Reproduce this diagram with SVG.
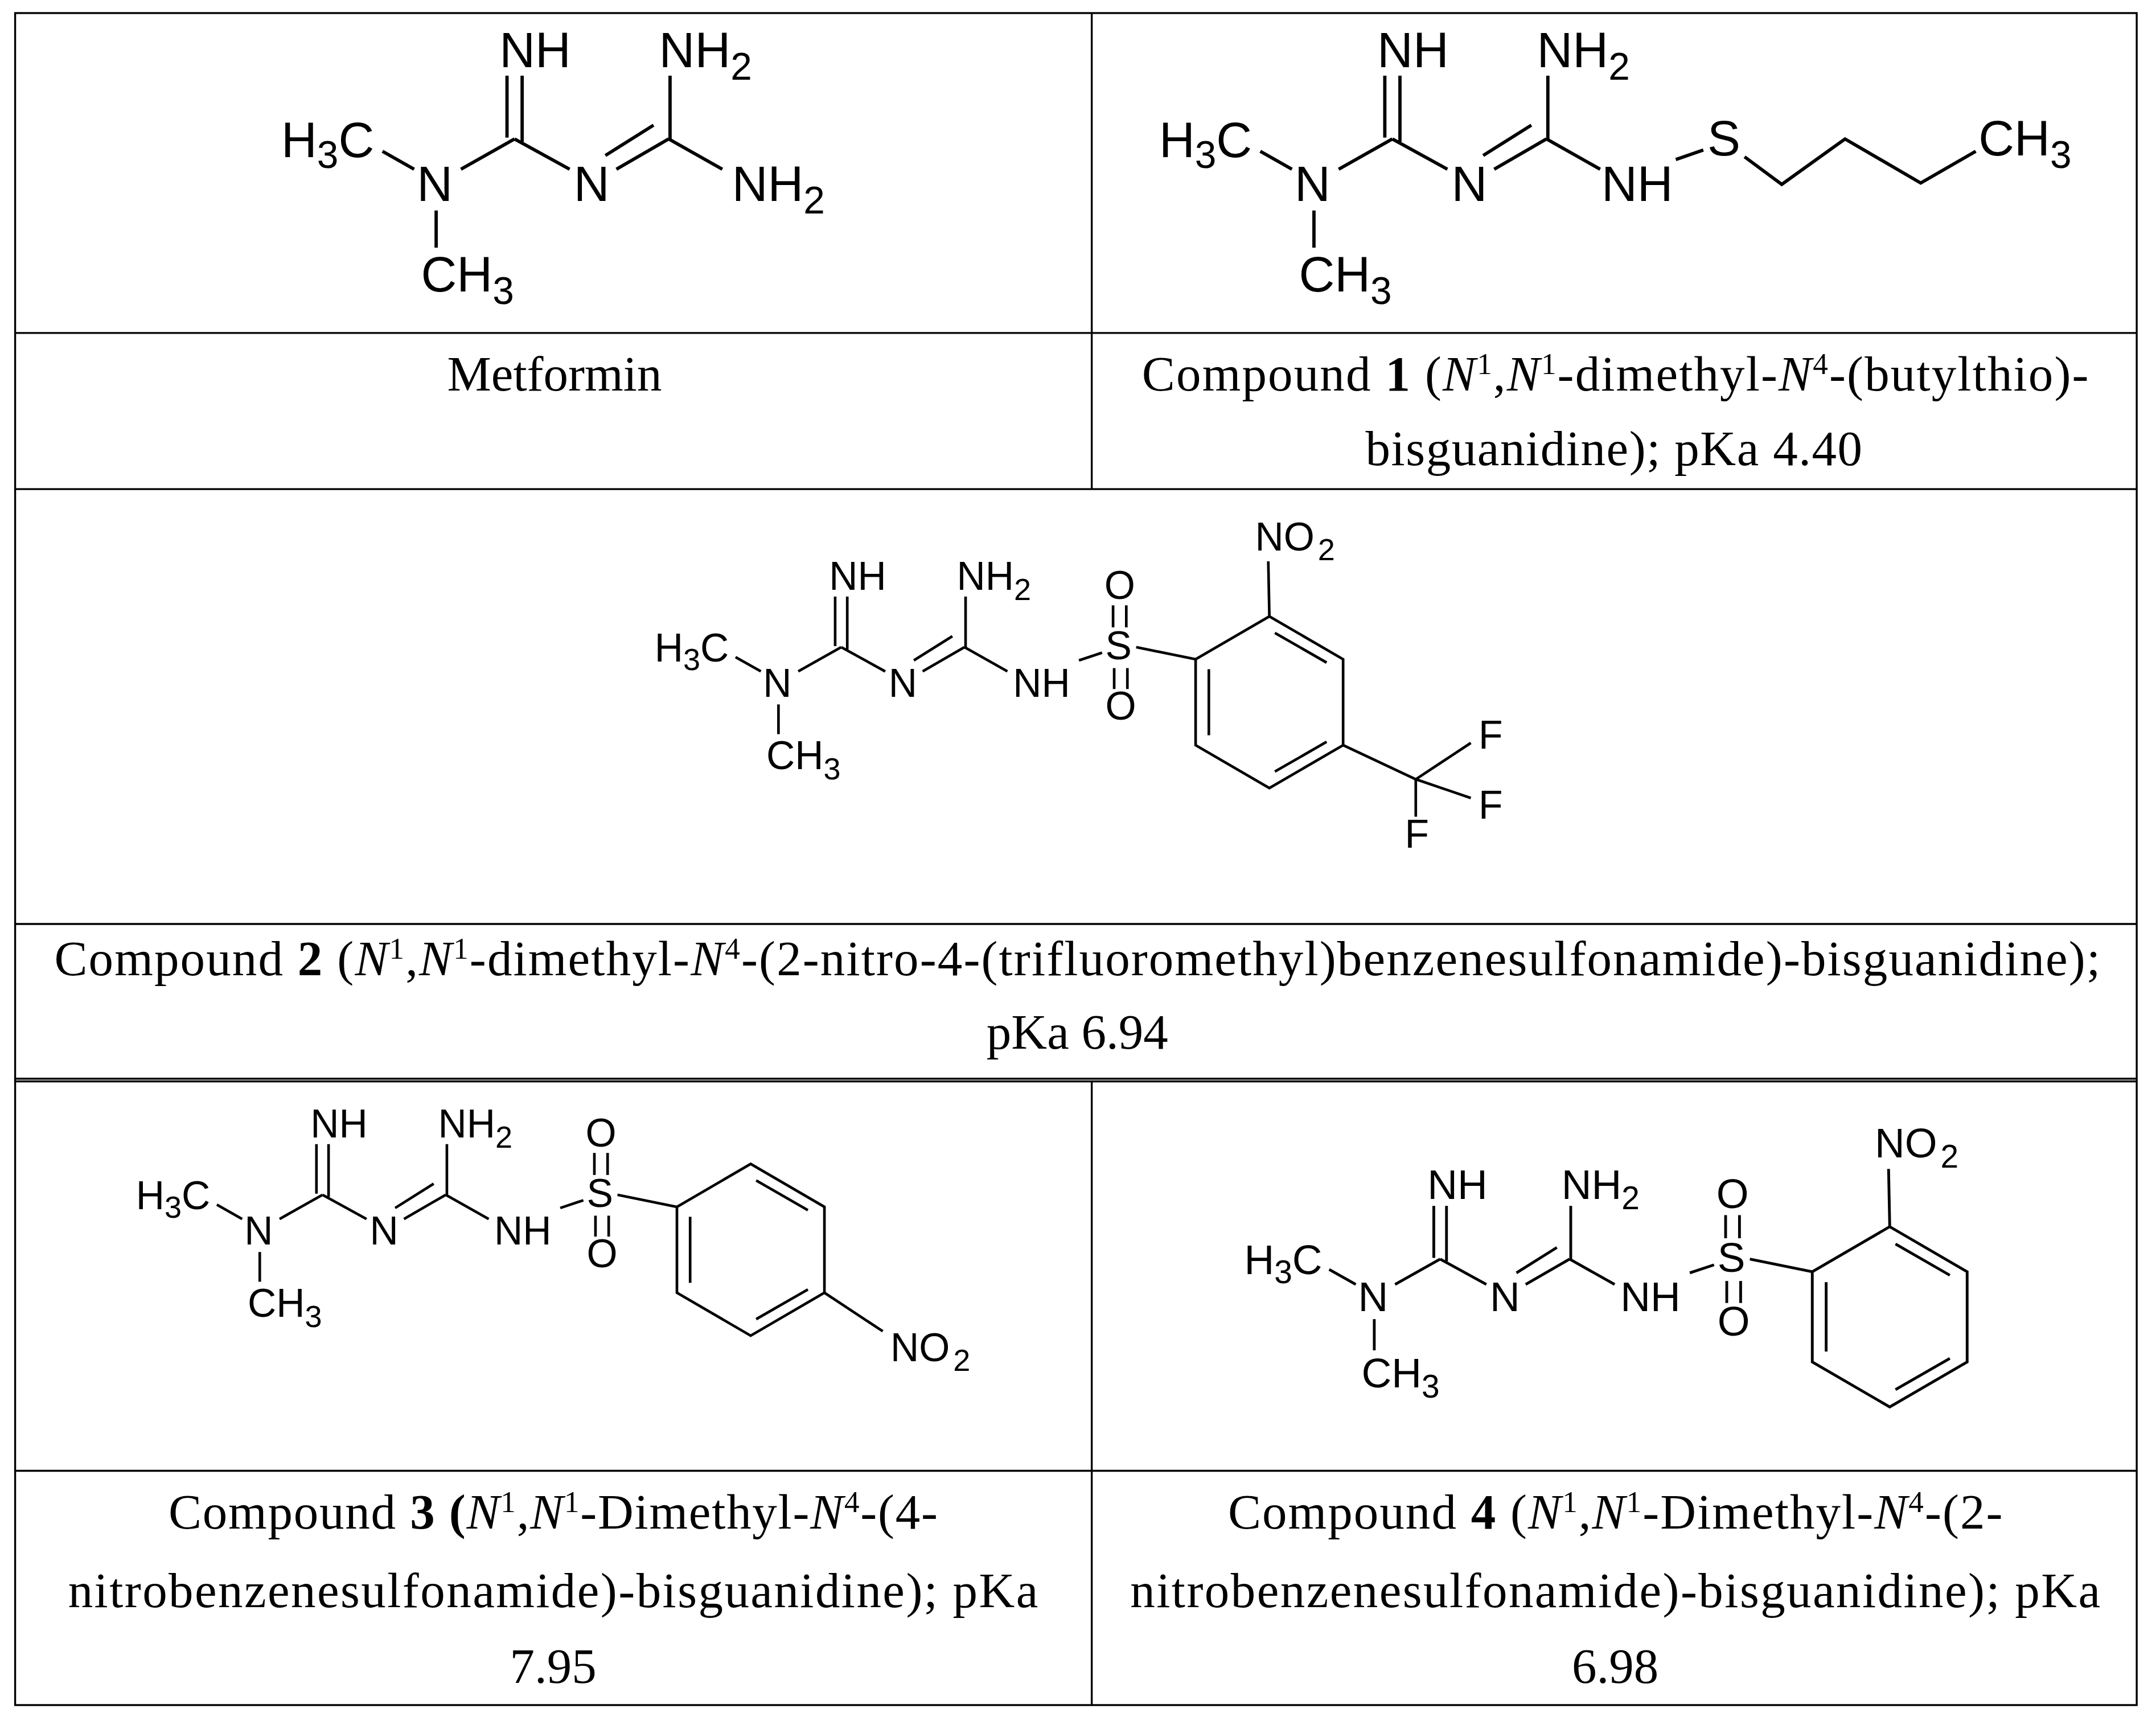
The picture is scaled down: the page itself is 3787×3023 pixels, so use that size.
<svg xmlns="http://www.w3.org/2000/svg" xmlns:xlink="http://www.w3.org/1999/xlink" width="3787" height="3023" viewBox="0 0 3787 3023">
<style>
.b{stroke:#000;stroke-width:2.4;fill:none;stroke-linecap:butt}
.t{stroke:#000;stroke-width:1.4;fill:none}
.l{font-family:"Liberation Sans",Arial,sans-serif;font-size:36px;fill:#000}
.sub{font-size:28px}
.c{font-family:"Liberation Serif","Times New Roman",serif;font-size:36px;fill:#000;text-anchor:middle}
.sup{font-size:22px}
.i{font-style:italic}
.bd{font-weight:bold}
</style>
<defs>
<g id="core">
<text class="l" x="-44" y="-19" text-anchor="end">H<tspan class="sub" dy="8">3</tspan><tspan dy="-8">C</tspan></text>
<line class="b" x1="-38" y1="-23" x2="-15" y2="-10"/>
<text class="l" x="0" y="13" text-anchor="middle">N</text>
<line class="b" x1="19" y1="-10" x2="58" y2="-32"/>
<line class="b" x1="52.5" y1="-78" x2="52.5" y2="-33"/>
<line class="b" x1="63.5" y1="-78" x2="63.5" y2="-30"/>
<text class="l" x="47" y="-84">NH</text>
<line class="b" x1="58" y1="-32" x2="98" y2="-10"/>
<text class="l" x="114" y="13" text-anchor="middle">N</text>
<line class="b" x1="132" y1="-10" x2="170" y2="-32"/>
<line class="b" x1="124" y1="-20" x2="159" y2="-42"/>
<line class="b" x1="171" y1="-78" x2="171" y2="-32"/>
<text class="l" x="163" y="-84">NH<tspan class="sub" dy="9">2</tspan></text>
<line class="b" x1="170" y1="-32" x2="209" y2="-10"/>
<line class="b" x1="1" y1="20" x2="1" y2="47"/>
<text class="l" x="-10" y="79">CH<tspan class="sub" dy="9">3</tspan></text>
</g>
<g id="sulf">
<text class="l" x="214" y="13">NH</text>
<line class="b" x1="274" y1="-20" x2="295" y2="-27"/>
<text class="l" x="310" y="-21" text-anchor="middle">S</text>
<text class="l" x="311" y="-76" text-anchor="middle">O</text>
<text class="l" x="312" y="34" text-anchor="middle">O</text>
<line class="b" x1="305" y1="-70" x2="305" y2="-50"/>
<line class="b" x1="317" y1="-70" x2="317" y2="-50"/>
<line class="b" x1="306" y1="-13" x2="306" y2="6"/>
<line class="b" x1="318" y1="-13" x2="318" y2="6"/>
<line class="b" x1="326" y1="-32" x2="380" y2="-21"/>
<polygon class="b" points="380,-21 447,-60 514,-21 514,57 447,96 380,57"/>
<line class="b" x1="392" y1="-12" x2="392" y2="48"/>
<line class="b" x1="452" y1="-45" x2="499" y2="-18"/>
<line class="b" x1="499" y1="54" x2="452" y2="81"/>
</g>
<g id="ortho">
<line class="b" x1="447" y1="-60" x2="446" y2="-110"/>
<text class="l" x="434" y="-120">NO<tspan class="sub" dx="3" dy="9">2</tspan></text>
</g>
</defs>
<g transform="scale(2.4167)">
<g id="table">
<rect class="t" x="11" y="9.5" width="1542" height="1229.8"/>
<line class="t" x1="793.5" y1="9.5" x2="793.5" y2="355.5"/>
<line class="t" x1="793.5" y1="786" x2="793.5" y2="1239.3"/>
<line class="t" x1="11" y1="242" x2="1553" y2="242"/>
<line class="t" x1="11" y1="355.5" x2="1553" y2="355.5"/>
<line class="t" x1="11" y1="671.6" x2="1553" y2="671.6"/>
<line class="t" x1="11" y1="784" x2="1553" y2="784"/>
<line class="t" x1="11" y1="786" x2="1553" y2="786"/>
<line class="t" x1="11" y1="1069" x2="1553" y2="1069"/>
</g>
<g id="metformin" transform="translate(316,133)">
<use xlink:href="#core"/>
<text class="l" x="216" y="13">NH<tspan class="sub" dy="9">2</tspan></text>
</g>
<g id="compound1" transform="translate(954,133)">
<use xlink:href="#core"/>
<text class="l" x="210" y="13">NH</text>
<line class="b" x1="264" y1="-17" x2="284" y2="-24"/>
<text class="l" x="287" y="-20">S</text>
<polyline class="b" points="314,-19 341,1 387,-32 442,0 482,-23"/>
<text class="l" x="484" y="-20">CH<tspan class="sub" dy="9">3</tspan></text>
</g>
<g id="compound2" transform="translate(565,496) scale(0.8)">
<use xlink:href="#core"/>
<use xlink:href="#sulf"/>
<use xlink:href="#ortho"/>
<line class="b" x1="514" y1="57" x2="580" y2="88"/>
<line class="b" x1="580" y1="88" x2="630" y2="55"/>
<line class="b" x1="580" y1="88" x2="630" y2="105"/>
<line class="b" x1="580" y1="88" x2="580" y2="122"/>
<text class="l" x="637" y="60">F</text>
<text class="l" x="637" y="124">F</text>
<text class="l" x="581" y="150" text-anchor="middle">F</text>
</g>
<g id="compound3" transform="translate(188,894) scale(0.8)">
<use xlink:href="#core"/>
<use xlink:href="#sulf"/>
<line class="b" x1="514" y1="57" x2="567" y2="92"/>
<text class="l" x="574" y="119">NO<tspan class="sub" dx="3" dy="9">2</tspan></text>
</g>
<g id="compound4" transform="translate(998,942) scale(0.84)">
<use xlink:href="#core"/>
<use xlink:href="#sulf"/>
<use xlink:href="#ortho"/>
</g>
<g id="captions">
<text class="c" x="403" y="284">Metformin</text>
<text class="c" x="1174" y="284" textLength="688" lengthAdjust="spacing">Compound <tspan class="bd">1</tspan> (<tspan class="i">N</tspan><tspan class="sup" dy="-12">1</tspan><tspan dy="12">,</tspan><tspan class="i">N</tspan><tspan class="sup" dy="-12">1</tspan><tspan dy="12">-dimethyl-</tspan><tspan class="i">N</tspan><tspan class="sup" dy="-12">4</tspan><tspan dy="12">-(butylthio)-</tspan></text>
<text class="c" x="1173" y="338" textLength="361" lengthAdjust="spacing">bisguanidine); pKa 4.40</text>
<text class="c" x="783" y="709" textLength="1487" lengthAdjust="spacing">Compound <tspan class="bd">2</tspan> (<tspan class="i">N</tspan><tspan class="sup" dy="-12">1</tspan><tspan dy="12">,</tspan><tspan class="i">N</tspan><tspan class="sup" dy="-12">1</tspan><tspan dy="12">-dimethyl-</tspan><tspan class="i">N</tspan><tspan class="sup" dy="-12">4</tspan><tspan dy="12">-(2-nitro-4-(trifluoromethyl)benzenesulfonamide)-bisguanidine);</tspan></text>
<text class="c" x="783" y="762">pKa 6.94</text>
<text class="c" x="402" y="1111" textLength="559" lengthAdjust="spacing">Compound <tspan class="bd">3 (</tspan><tspan class="i">N</tspan><tspan class="sup" dy="-12">1</tspan><tspan dy="12">,</tspan><tspan class="i">N</tspan><tspan class="sup" dy="-12">1</tspan><tspan dy="12">-Dimethyl-</tspan><tspan class="i">N</tspan><tspan class="sup" dy="-12">4</tspan><tspan dy="12">-(4-</tspan></text>
<text class="c" x="402" y="1168" textLength="705" lengthAdjust="spacing">nitrobenzenesulfonamide)-bisguanidine); pKa</text>
<text class="c" x="402" y="1223">7.95</text>
<text class="c" x="1174" y="1111" textLength="563" lengthAdjust="spacing">Compound <tspan class="bd">4</tspan> (<tspan class="i">N</tspan><tspan class="sup" dy="-12">1</tspan><tspan dy="12">,</tspan><tspan class="i">N</tspan><tspan class="sup" dy="-12">1</tspan><tspan dy="12">-Dimethyl-</tspan><tspan class="i">N</tspan><tspan class="sup" dy="-12">4</tspan><tspan dy="12">-(2-</tspan></text>
<text class="c" x="1174" y="1168" textLength="705" lengthAdjust="spacing">nitrobenzenesulfonamide)-bisguanidine); pKa</text>
<text class="c" x="1174" y="1223">6.98</text>
</g>
</g>
</svg>
